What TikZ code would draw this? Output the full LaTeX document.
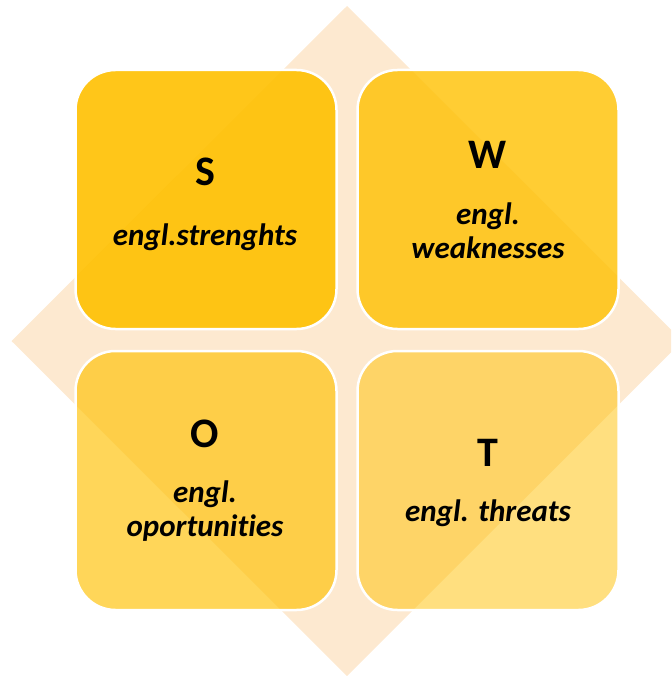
\documentclass[tikz,border=0pt]{standalone}
\usepackage{fontspec}
\setmainfont{Carlito}[Ligatures=NoCommon]
\definecolor{peach}{HTML}{FDE9D0}
\definecolor{amber}{HTML}{FFC000}
\tikzset{
  quad/.style={draw=white, line width=2.5pt, rounded corners=40pt, fill=amber,
    minimum width=261pt, minimum height=259pt, inner sep=0pt, text opacity=1, draw opacity=1},
  letter/.style={font=\bfseries\fontsize{42}{46}\selectfont, inner sep=0pt},
  label/.style={font=\bfseries\itshape\fontsize{31}{34}\selectfont, align=center, inner sep=0pt}
}
\begin{document}
\begin{tikzpicture}[x=1pt,y=-1pt]
\useasboundingbox (0,0) rectangle (671,676);
\clip (0,0) rectangle (671,676);
\fill[peach] (347,6) -- (682.5,341) -- (347,676) -- (11.5,341) -- cycle;
\node[quad, fill opacity=0.9] (s) at (206,199.5) {};
\node[quad, fill opacity=0.8] (w) at (488,199.5) {};
\node[quad, fill opacity=0.65] (o) at (206,480.5) {};
\node[quad, fill opacity=0.5] (t) at (488,480.5) {};
\node[letter] (sl) at (205,172) {S};
\node[label] (st) at (205,237) {engl.strenghts};
\node[letter] (wl) at (488,155) {W};
\node[label] (wt) at (488,231) {engl.\\weaknesses};
\node[letter] (ol) at (205,434) {O};
\node[label] (ot) at (205,511) {engl.\\oportunities};
\node[letter] (tl) at (488,453) {T};
\node[label] (tt) at (488,513) {engl. threats};
\end{tikzpicture}
\end{document}
